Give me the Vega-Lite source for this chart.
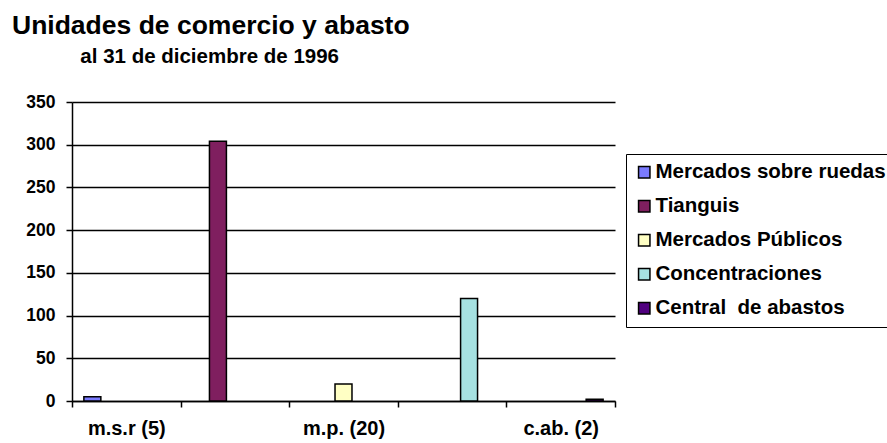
{
  "$schema": "https://vega.github.io/schema/vega-lite/v6.json",
  "width": 543,
  "height": 299,
  "autosize": {"type": "none"},
  "padding": {"left": 72, "top": 102, "right": 272, "bottom": 42},
  "background": "white",
  "title": {
    "text": "Unidades de comercio y abasto",
    "subtitle": "\u200b\u00a0\u00a0\u00a0\u00a0\u00a0\u00a0\u00a0\u00a0\u00a0\u00a0\u00a0\u00a0al 31 de diciembre de 1996",
    "anchor": "start",
    "frame": "group",
    "dx": -60,
    "font": "Liberation Sans",
    "fontSize": 26.5,
    "fontWeight": "bold",
    "color": "black",
    "subtitleFont": "Liberation Sans",
    "subtitleFontSize": 20.5,
    "subtitleFontWeight": "bold",
    "subtitleColor": "black",
    "subtitlePadding": 7,
    "offset": 26
  },
  "data": {
    "values": [
      {"grupo": "m.s.r (5)", "serie": "Mercados sobre ruedas", "valor": 5},
      {"grupo": "tian. (304)", "serie": "Tianguis", "valor": 304},
      {"grupo": "m.p. (20)", "serie": "Mercados Públicos", "valor": 20},
      {"grupo": "conc. (120)", "serie": "Concentraciones", "valor": 120},
      {"grupo": "c.ab. (2)", "serie": "Central\u00a0 de abastos", "valor": 2}
    ]
  },
  "mark": {"type": "bar", "stroke": "black", "strokeWidth": 1.5},
  "encoding": {
    "x": {
      "field": "grupo",
      "type": "nominal",
      "sort": ["m.s.r (5)", "tian. (304)", "m.p. (20)", "conc. (120)", "c.ab. (2)"],
      "scale": {"paddingInner": 0, "paddingOuter": 0},
      "axis": {
        "title": null,
        "labelAngle": 0,
        "labelExpr": "indexof(['m.s.r (5)','m.p. (20)','c.ab. (2)'], datum.value) >= 0 ? datum.label : ''",
        "labelFont": "Liberation Sans",
        "labelFontSize": 20,
        "labelFontWeight": "bold",
        "labelColor": "black",
        "labelPadding": 11,
        "tickBand": "extent",
        "tickColor": "black",
        "tickSize": 6,
        "tickWidth": 1.5,
        "domainColor": "black",
        "domainWidth": 1.5,
        "grid": false
      }
    },
    "xOffset": {
      "field": "serie",
      "type": "nominal",
      "sort": ["Mercados sobre ruedas", "Tianguis", "Mercados Públicos", "Concentraciones", "Central\u00a0 de abastos"],
      "scale": {"paddingInner": 0, "paddingOuter": 0.7}
    },
    "y": {
      "field": "valor",
      "type": "quantitative",
      "scale": {"domain": [0, 350], "nice": false},
      "axis": {
        "title": null,
        "values": [0, 50, 100, 150, 200, 250, 300, 350],
        "labelFont": "Liberation Sans",
        "labelFontSize": 17.5,
        "labelFontWeight": "bold",
        "labelColor": "black",
        "labelPadding": 11,
        "tickColor": "black",
        "tickSize": 6,
        "tickWidth": 1.5,
        "domainColor": "black",
        "domainWidth": 1.5,
        "grid": true,
        "gridColor": "black",
        "gridWidth": 1.4,
        "gridOpacity": 1
      }
    },
    "color": {
      "field": "serie",
      "type": "nominal",
      "sort": ["Mercados sobre ruedas", "Tianguis", "Mercados Públicos", "Concentraciones", "Central\u00a0 de abastos"],
      "scale": {
        "domain": ["Mercados sobre ruedas", "Tianguis", "Mercados Públicos", "Concentraciones", "Central\u00a0 de abastos"],
        "range": ["#7B7BFF", "#7F1F5F", "#FFFFC4", "#A6E1E1", "#50007F"]
      },
      "legend": {
        "title": null,
        "orient": "none",
        "legendX": 554,
        "legendY": 52,
        "strokeColor": "black",
        "padding": 8,
        "symbolType": "square",
        "symbolSize": 130,
        "symbolStrokeColor": "black",
        "symbolStrokeWidth": 1.5,
        "symbolOpacity": 1,
        "labelFont": "Liberation Sans",
        "labelFontSize": 20.5,
        "labelFontWeight": "bold",
        "labelColor": "black",
        "labelOffset": 1,
        "labelLimit": 400,
        "rowPadding": 13
      }
    }
  },
  "config": {"view": {"stroke": null}}
}
